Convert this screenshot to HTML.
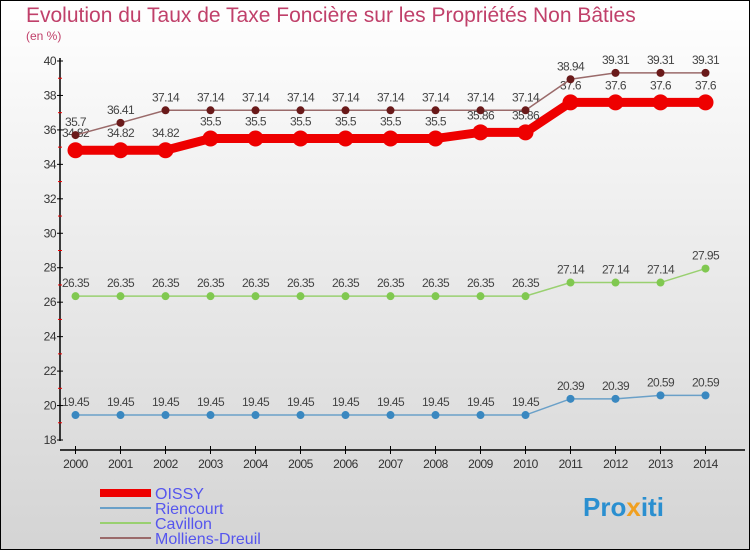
<!DOCTYPE html>
<html><head><meta charset="utf-8"><style>
body{margin:0}
#c{width:750px;height:550px;position:relative;font-family:"Liberation Sans",sans-serif;}
</style></head><body>
<div id="c">
<svg id="s" width="750" height="550" xmlns="http://www.w3.org/2000/svg">
<defs><linearGradient id="bg" x1="0" y1="0" x2="0" y2="1"><stop offset="0" stop-color="#ffffff"/><stop offset="1" stop-color="#d4d4d4"/></linearGradient></defs>
<rect x="0.5" y="0.5" width="749" height="549" fill="url(#bg)" stroke="#000"/>
<text x="26" y="22" font-size="21" fill="#c0406a">Evolution du Taux de Taxe Foncière sur les Propriétés Non Bâties</text>
<text x="26" y="40" font-size="12" fill="#c0406a">(en %)</text>
<g id="axes"></g><g id="series"></g>
<g>
<rect x="100" y="489" width="51" height="8" fill="#e00"/>
<text x="155" y="499" font-size="16" fill="#5555ee">OISSY</text>
<line x1="100" y1="508" x2="151" y2="508" stroke="#6aa0c8" stroke-width="2"/>
<text x="155" y="514" font-size="16" fill="#5555ee">Riencourt</text>
<line x1="100" y1="523" x2="151" y2="523" stroke="#99d070" stroke-width="2"/>
<text x="155" y="529" font-size="16" fill="#5555ee">Cavillon</text>
<line x1="100" y1="538" x2="151" y2="538" stroke="#9a6a6a" stroke-width="2"/>
<text x="155" y="544" font-size="16" fill="#5555ee">Molliens-Dreuil</text>
</g>
<text x="583" y="516" font-size="26" font-weight="bold" fill="#2a8fd0">Pro<tspan fill="#f0a020">x</tspan>iti</text>
</svg>
</div>
<script>
const years=[2000,2001,2002,2003,2004,2005,2006,2007,2008,2009,2010,2011,2012,2013,2014];
const yTicks=[18,20,22,24,26,28,30,32,34,36,38,40];
const oissy=[34.82,34.82,34.82,35.5,35.5,35.5,35.5,35.5,35.5,35.86,35.86,37.6,37.6,37.6,37.6];
const riencourt=[19.45,19.45,19.45,19.45,19.45,19.45,19.45,19.45,19.45,19.45,19.45,20.39,20.39,20.59,20.59];
const cavillon=[26.35,26.35,26.35,26.35,26.35,26.35,26.35,26.35,26.35,26.35,26.35,27.14,27.14,27.14,27.95];
const molliens=[35.7,36.41,37.14,37.14,37.14,37.14,37.14,37.14,37.14,37.14,37.14,38.94,39.31,39.31,39.31];
const NS="http://www.w3.org/2000/svg";
const X=i=>75.5+i*45, Y=v=>440-(v-18)*(379/22);
function mk(p,t,a){const e=document.createElementNS(NS,t);for(const k in a)e.setAttribute(k,a[k]);p.appendChild(e);return e;}
const ax=document.getElementById('axes');
let l=mk(ax,'line',{x1:60,y1:58,x2:60,y2:441,stroke:'#000','stroke-width':1.5});


l=mk(ax,'line',{x1:60,y1:450,x2:745,y2:450,stroke:'#000','stroke-width':1.5});


yTicks.forEach(v=>{
  mk(ax,'line',{x1:57,y1:Y(v),x2:63,y2:Y(v),stroke:'#000'});
  if(v<40) mk(ax,'line',{x1:58,y1:Y(v+1),x2:62,y2:Y(v+1),stroke:'#e00'});
  const t=mk(ax,'text',{x:56,y:Y(v)+4,'font-size':12,'text-anchor':'end',fill:'#333','letter-spacing':'-0.5'});
  t.textContent=v;
  
  
});
years.forEach((y,i)=>{
  mk(ax,'line',{x1:X(i),y1:446,x2:X(i),y2:454,stroke:'#000'});
  const t=mk(ax,'text',{x:X(i),y:468,'font-size':12,'text-anchor':'middle',fill:'#333','letter-spacing':'-0.5'});
  t.textContent=y;
  
  
});
const sg=document.getElementById('series');
function series(name,data,color,w,r,dot){
  const g=mk(sg,'g',{});
  
  
  mk(g,'polyline',{points:data.map((v,i)=>X(i)+','+Y(v)).join(' '),fill:'none',stroke:color,'stroke-width':w});
  data.forEach((v,i)=>{
    const c=mk(g,'circle',{cx:X(i),cy:Y(v),r:r,fill:dot});
    
    
    const t=mk(g,'text',{x:X(i),y:Y(v)-(r+5),'font-size':12,'text-anchor':'middle',fill:'#444','letter-spacing':'-0.6'});
    t.textContent=v;
    
    
  });
}
series('riencourt',riencourt,'#6aa0c8',1.5,4,'#3a88c0');
series('cavillon',cavillon,'#99d070',1.5,4,'#80c850');
series('oissy',oissy,'#ee0000',9,8,'#ee0000');
series('molliens',molliens,'#9a6a6a',1.5,4,'#6a1a1a');
</script>
</body></html>
